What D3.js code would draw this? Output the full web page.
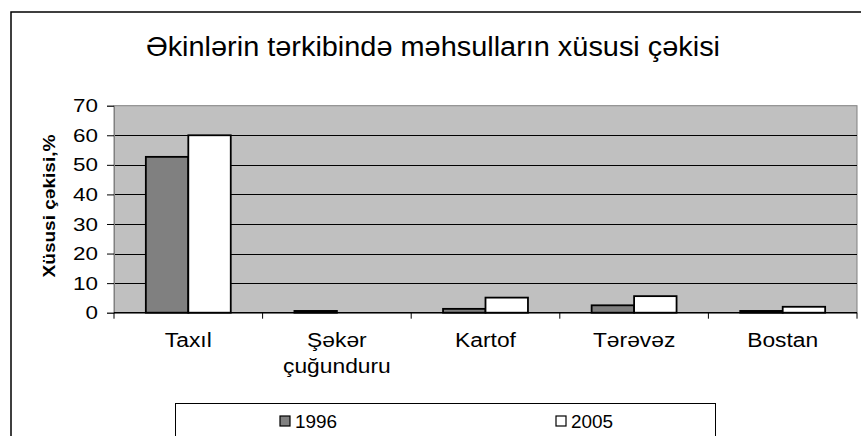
<!DOCTYPE html>
<html>
<head>
<meta charset="utf-8">
<script src="https://cdn.jsdelivr.net/npm/d3@7"></script>
<style>
  body { margin: 0; background: #fff; }
  text { font-family: "Liberation Sans", Arial, sans-serif; fill: #000; }
</style>
</head>
<body>
<div id="chart"></div>
<script>
// chart data
var categories = ["Taxıl", "Şəkər çuğunduru", "Kartof", "Tərəvəz", "Bostan"];
var years = ["1996", "2005"];
var values1996 = [52.7, 0.6, 1.3, 2.5, 0.6];
var values2005 = [60.0, 0, 5.1, 5.6, 2.0];
var yTicks = [0, 10, 20, 30, 40, 50, 60, 70];
var titleText = "Əkinlərin tərkibində məhsulların xüsusi çəkisi";
var yLabelText = "Xüsusi çəkisi,%";

var svgWidth = 861;
var svgHeight = 436;

// plot area position
var plot = { left: 114, top: 105.7, right: 857, bottom: 312.7 };

var colors = { "1996": "#808080", "2005": "#ffffff" };

// the source picture has wide lettering, so stretch text sideways a bit
function stretch(sel, k) {
  sel.each(function() {
    var len = this.getComputedTextLength();
    d3.select(this)
      .attr("textLength", len * k)
      .attr("lengthAdjust", "spacingAndGlyphs");
  });
}

var svg = d3.select("#chart")
  .append("svg")
  .attr("width", svgWidth)
  .attr("height", svgHeight);

// outer chart frame (runs off the page on the right and bottom)
svg.append("rect")
  .attr("x", 11)
  .attr("y", 12)
  .attr("width", 880)
  .attr("height", 460)
  .attr("fill", "#fff")
  .attr("stroke", "#000")
  .attr("stroke-width", 1.5);

// title
svg.append("text")
  .attr("x", 433)
  .attr("y", 56)
  .attr("text-anchor", "middle")
  .style("font-size", "27px")
  .text(titleText)
  .call(stretch, 1.07);

// scales
var gap = 1.5; // excel gap width 150%
var pad = gap / (2 + gap);
var x0 = d3.scaleBand()
  .domain(categories)
  .range([plot.left, plot.right])
  .paddingInner(pad)
  .paddingOuter(pad / 2);

var x1 = d3.scaleBand()
  .domain(years)
  .range([0, x0.bandwidth()]);

var y = d3.scaleLinear()
  .domain([0, 70])
  .range([plot.bottom, plot.top]);

// plot area background
svg.append("rect")
  .attr("x", plot.left)
  .attr("y", plot.top)
  .attr("width", plot.right - plot.left)
  .attr("height", plot.bottom - plot.top)
  .attr("fill", "#c0c0c0")
  .attr("stroke", "#808080")
  .attr("stroke-width", 1);

// gridlines
svg.append("g")
  .selectAll("line")
  .data(yTicks.filter(d => d > 0 && d < 70))
  .enter()
  .append("line")
  .attr("x1", plot.left)
  .attr("x2", plot.right)
  .attr("y1", d => Math.round(y(d)) + 0.5)
  .attr("y2", d => Math.round(y(d)) + 0.5)
  .attr("stroke", "#000")
  .attr("stroke-width", 1);

// bars
var rows = categories.map(function(c, i) {
  return { cat: c, vals: [
    { year: "1996", value: values1996[i] },
    { year: "2005", value: values2005[i] }
  ] };
});

var groups = svg.append("g")
  .selectAll("g")
  .data(rows)
  .enter()
  .append("g")
  .attr("transform", d => `translate(${x0(d.cat)},0)`);

groups.selectAll("rect")
  .data(d => d.vals.filter(v => v.value > 0))
  .enter()
  .append("rect")
  .attr("x", d => x1(d.year))
  .attr("y", d => y(d.value))
  .attr("width", x1.bandwidth())
  .attr("height", d => y(0) - y(d.value))
  .attr("fill", d => colors[d.year])
  .attr("stroke", "#000")
  .attr("stroke-width", 1.8);

// y axis
var leftAxis = d3.axisLeft(y)
  .tickValues(yTicks)
  .tickSize(7)
  .tickPadding(9);

var yAxis = svg.append("g")
  .attr("transform", `translate(${plot.left},0)`)
  .call(leftAxis);
yAxis.attr("font-family", null);
yAxis.select(".domain").attr("stroke", "#808080");
yAxis.selectAll(".tick line").attr("stroke", "#000");
yAxis.selectAll("text")
  .style("font-size", "19px")
  .call(stretch, 1.18);

// x axis line and boundary ticks
svg.append("line")
  .attr("x1", plot.left)
  .attr("x2", plot.right)
  .attr("y1", plot.bottom)
  .attr("y2", plot.bottom)
  .attr("stroke", "#000")
  .attr("stroke-width", 1.5);

svg.append("g")
  .selectAll("line")
  .data(d3.range(categories.length + 1))
  .enter()
  .append("line")
  .attr("x1", i => plot.left + i * x0.step())
  .attr("x2", i => plot.left + i * x0.step())
  .attr("y1", plot.bottom)
  .attr("y2", plot.bottom + 6)
  .attr("stroke", "#000");

// category labels
var bottomAxis = d3.axisBottom(x0)
  .tickSize(0)
  .tickPadding(20);

var xAxis = svg.append("g")
  .attr("transform", `translate(0,${plot.bottom})`)
  .call(bottomAxis);
xAxis.attr("font-family", null);
xAxis.select(".domain").remove();
xAxis.selectAll("text")
  .style("font-size", "20px")
  .call(wrap, x0.step() / 1.14 - 4);
xAxis.selectAll("tspan").call(stretch, 1.14);

// wrap long category names over several lines
function wrap(texts, width) {
  texts.each(function() {
    var text = d3.select(this);
    var words = text.text().split(/\s+/);
    var yPos = text.attr("y");
    var line = [];
    var lines = [];
    text.text(null);
    var tspan = text.append("tspan");
    words.forEach(function(w) {
      line.push(w);
      tspan.text(line.join(" "));
      if (tspan.node().getComputedTextLength() > width && line.length > 1) {
        line.pop();
        lines.push(line.join(" "));
        line = [w];
      }
    });
    lines.push(line.join(" "));
    text.text(null);
    lines.forEach(function(l, i) {
      text.append("tspan")
        .attr("x", 0)
        .attr("y", yPos)
        .attr("dy", (0.71 + i * 1.3) + "em")
        .text(l);
    });
  });
}

// y axis label
svg.append("text")
  .attr("transform", "translate(55, 206) rotate(-90)")
  .attr("text-anchor", "middle")
  .style("font-size", "17px")
  .style("font-weight", "bold")
  .text(yLabelText)
  .call(stretch, 1.12);

// legend
svg.append("rect")
  .attr("x", 175.5)
  .attr("y", 403.5)
  .attr("width", 540)
  .attr("height", 50)
  .attr("fill", "#fff")
  .attr("stroke", "#000")
  .attr("stroke-width", 1);

var legendX = { "1996": 280, "2005": 556 };
var legend = svg.append("g")
  .selectAll("g")
  .data(years)
  .enter()
  .append("g")
  .attr("transform", d => `translate(${legendX[d]}, 416)`);

legend.append("rect")
  .attr("width", 10)
  .attr("height", 10)
  .attr("fill", d => colors[d])
  .attr("stroke", "#000")
  .attr("stroke-width", 1.2);

legend.append("text")
  .attr("x", 15)
  .attr("y", 12)
  .style("font-size", "17.5px")
  .text(d => d)
  .call(stretch, 1.08);
</script>
</body>
</html>
